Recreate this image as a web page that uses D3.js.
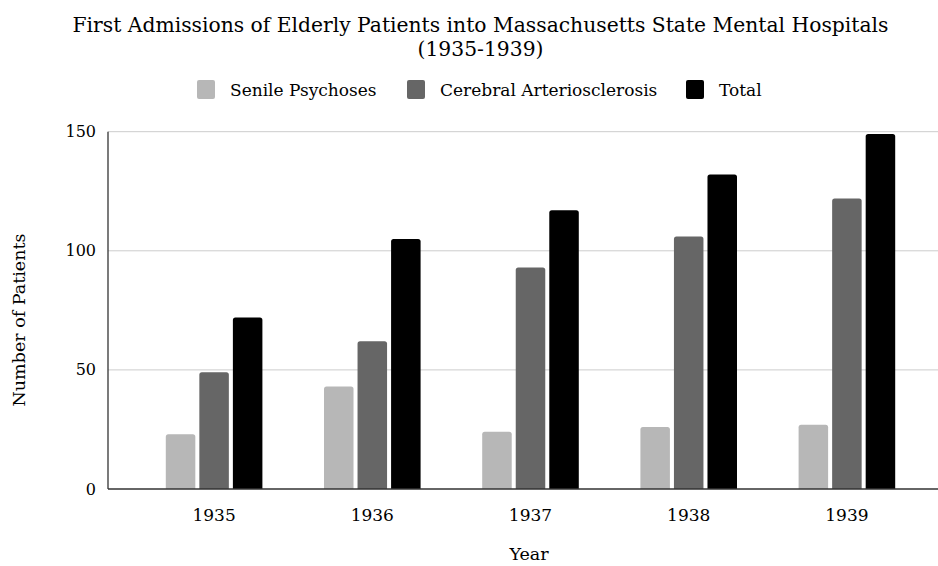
<!DOCTYPE html>
<html><head><meta charset="utf-8">
<script src="https://cdn.jsdelivr.net/npm/d3@7/dist/d3.min.js"></script>
<style>
body{margin:0;background:#fff;}
svg{display:block;}
text{font-family:"DejaVu Serif",Georgia,serif;fill:#000;}
</style></head><body>
<svg id="chart" width="938" height="566"></svg>
<script>
const years = ["1935","1936","1937","1938","1939"];
const seriesNames = ["Senile Psychoses","Cerebral Arteriosclerosis","Total"];
const senile = [23,43,24,26,27];
const cerebral = [49,62,93,106,122];
const total = [72,105,117,132,149];
const yTicks = [0,50,100,150];
const colors = ["#b7b7b7","#666666","#000000"];

const svg = d3.select("#chart");
const plot = {left:108, right:938, top:131.7, bottom:489};

const values = [senile, cerebral, total];
const data = years.map((y,i)=>({year:y, vals: values.map(v=>v[i])}));

const y = d3.scaleLinear().domain([0,150]).range([plot.bottom, plot.top]);
const x0 = d3.scaleBand().domain(years).range([135,926]).paddingInner(0).paddingOuter(0);
const x1 = d3.scaleBand().domain(d3.range(3)).range([0,96.6]).paddingInner(0.12).paddingOuter(0);

// gridlines
svg.append("g").selectAll("line").data(yTicks.filter(t=>t>0)).join("line")
  .attr("x1",plot.left).attr("x2",plot.right)
  .attr("y1",d=>y(d)).attr("y2",d=>y(d))
  .attr("stroke","#cccccc").attr("stroke-width",1);

// y tick labels
svg.append("g").selectAll("text").data(yTicks).join("text")
  .attr("x",96).attr("y",d=>y(d)+5.5).attr("text-anchor","end")
  .attr("font-size",16).text(d=>d);

function topRounded(x,yTop,w,h,r){
  r=Math.min(r,h,w/2);
  return `M${x},${yTop+h}V${yTop+r}Q${x},${yTop} ${x+r},${yTop}H${x+w-r}Q${x+w},${yTop} ${x+w},${yTop+r}V${yTop+h}Z`;
}
const groups = svg.append("g").selectAll("g").data(data).join("g")
  .attr("transform",d=>`translate(${x0(d.year)+x0.bandwidth()/2-48.3},0)`);
groups.selectAll("path").data(d=>d.vals.map((v,i)=>({v,i}))).join("path")
  .attr("d",d=>topRounded(x1(d.i), y(d.v), x1.bandwidth(), y(0)-y(d.v), 2.5))
  .attr("fill",d=>colors[d.i]);

// axes lines
svg.append("line").attr("x1",plot.left).attr("x2",plot.left).attr("y1",plot.top).attr("y2",plot.bottom)
  .attr("stroke","#333").attr("stroke-width",1.3);
svg.append("line").attr("x1",plot.left).attr("x2",plot.right).attr("y1",plot.bottom).attr("y2",plot.bottom)
  .attr("stroke","#333").attr("stroke-width",1.3);

// x labels
svg.append("g").selectAll("text").data(years).join("text")
  .attr("x",d=>x0(d)+x0.bandwidth()/2).attr("y",521).attr("text-anchor","middle")
  .attr("font-size",17).text(d=>d);

// axis titles
svg.append("text").attr("x",529).attr("y",560).attr("text-anchor","middle").attr("font-size",17.5).text("Year");
svg.append("text").attr("transform","translate(25,320) rotate(-90)").attr("text-anchor","middle").attr("font-size",17.5).text("Number of Patients");

// title
svg.append("text").attr("x",480.5).attr("y",32).attr("text-anchor","middle").attr("font-size",20.3).text("First Admissions of Elderly Patients into Massachusetts State Mental Hospitals");
svg.append("text").attr("x",480.5).attr("y",56).attr("text-anchor","middle").attr("font-size",20.3).text("(1935-1939)");

// legend
const legX = [197,407,686];
const leg = svg.append("g").selectAll("g").data(seriesNames).join("g")
  .attr("transform",(d,i)=>`translate(${legX[i]},80)`);
leg.append("rect").attr("width",18).attr("height",19).attr("rx",2).attr("fill",(d,i)=>colors[i]);
leg.append("text").attr("x",33).attr("y",16).attr("font-size",17).text(d=>d);
</script>
</body></html>
